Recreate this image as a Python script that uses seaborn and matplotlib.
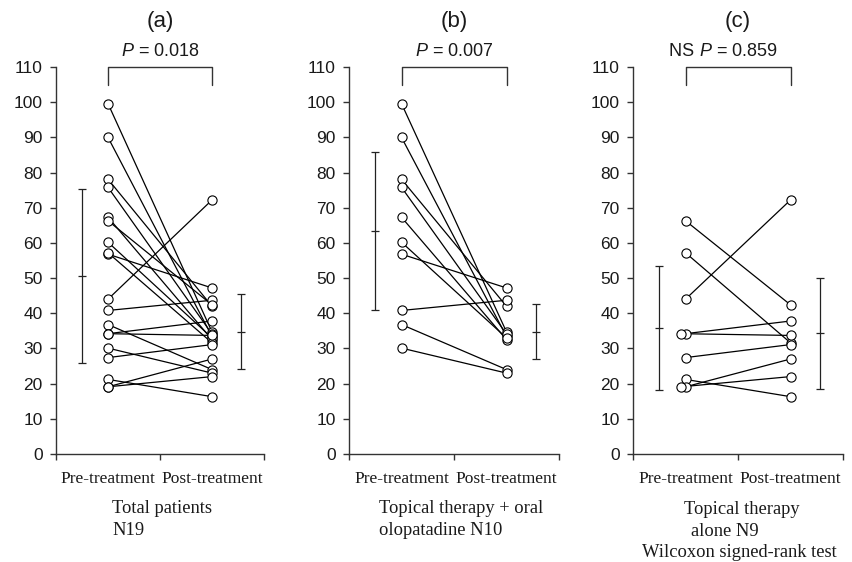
import matplotlib
matplotlib.use("Agg")
import numpy as np
import pandas as pd
import seaborn as sns
import matplotlib.pyplot as plt

# ---------------- data ----------------
conditions = ["Pre-treatment", "Post-treatment"]
y_ticks = [0, 10, 20, 30, 40, 50, 60, 70, 80, 90, 100, 110]

# group (b): topical therapy + oral olopatadine (N10), paired values
pre_b = [99.6, 90.0, 78.1, 75.8, 67.3, 60.2, 56.8, 40.8, 36.8, 30.1]
post_b = [34.7, 33.4, 42.0, 34.1, 32.5, 33.0, 47.2, 43.7, 24.0, 23.0]
# group (c): topical therapy alone (N9), paired values
pre_c = [66.3, 57.2, 44.0, 34.2, 34.2, 27.4, 21.2, 19.1, 19.1]
post_c = [42.4, 31.6, 72.2, 37.8, 33.7, 31.1, 16.3, 27.0, 22.0]
# group (a): all patients (N19)
pre_a = pre_b + pre_c
post_a = post_b + post_c

# mean and SD bars
mean_pre = [50.6, 63.4, 35.7]
sd_pre = [24.8, 22.5, 17.6]
mean_post = [34.8, 34.8, 34.3]
sd_post = [10.7, 7.85, 15.8]

titles = ["(a)", "(b)", "(c)"]
p_texts = ["$P$ = 0.018", "$P$ = 0.007", "$P$ = 0.859"]
p_prefix = ["", "", "NS "]
subtitles = [["Total patients", "N19"],
             ["Topical therapy + oral", "olopatadine N10"],
             ["Topical therapy", "alone N9", "Wilcoxon signed-rank test"]]

# ---------------- style ----------------
sns.set_style("ticks")
plt.rcParams["font.family"] = ["Liberation Sans", "DejaVu Sans"]
plt.rcParams["mathtext.fontset"] = "custom"
plt.rcParams["mathtext.rm"] = "Liberation Sans"
plt.rcParams["mathtext.it"] = "Liberation Sans:italic"
TXT = "#1a1a1a"
AX = "#333333"
SERIF = ["Liberation Serif", "DejaVu Serif"]

W, H = 852, 562
fig = plt.figure(figsize=(W / 100, H / 100), dpi=100)
fig.patch.set_facecolor("white")

axes_px = [(56, 264), (349, 559), (633, 843)]
TOP, BOT = 67, 454

# subtitle placement (left/center x in px, baselines in px, alignment)
sub_layout = [
    dict(ha="left", xs=[112, 112], ys=[512.7, 535]),
    dict(ha="left", xs=[379, 379], ys=[512.7, 535]),
    dict(ha="center", xs=[742, 725, 739], ys=[514, 535.5, 557]),
]

pre_all = [pre_a, pre_b, pre_c]
post_all = [post_a, post_b, post_c]
dodge_dupes = [False, False, True]

for k in range(3):
    l, r = axes_px[k]
    ax = fig.add_axes([l / W, 1 - BOT / H, (r - l) / W, (BOT - TOP) / H])
    pre, post = pre_all[k], post_all[k]

    rows = []
    seen = {}
    for i, (p, q) in enumerate(zip(pre, post)):
        n = seen.get(p, 0) if dodge_dupes[k] else 0
        seen[p] = seen.get(p, 0) + 1
        rows.append((i, 0.5 - 0.04 * n, p))
        rows.append((i, 1.5, q))
    df = pd.DataFrame(rows, columns=["id", "x", "v"])

    sns.lineplot(data=df, x="x", y="v", units="id", estimator=None,
                 color="black", lw=0.9, ax=ax, legend=False, sort=False)
    sns.scatterplot(data=df, x="x", y="v", ax=ax, s=44, marker="o",
                    facecolor="white", edgecolor="black", linewidth=0.8,
                    zorder=5, legend=False)

    # mean +/- SD bars
    for xe, m, s in [(0.25, mean_pre[k], sd_pre[k]), (1.78, mean_post[k], sd_post[k])]:
        ax.errorbar([xe], [m], yerr=[s], fmt="none", ecolor="#222222",
                    elinewidth=0.9, capsize=3, capthick=0.9)
        ax.plot([xe], [m], marker="_", ms=6, mew=0.9, color="#222222")

    # significance bracket
    ax.plot([0.5, 0.5, 1.5, 1.5], [105, 110, 110, 105], color=AX, lw=1.0,
            clip_on=False)

    ax.set_xlim(0, 2)
    ax.set_ylim(0, 110)
    ax.set_yticks(y_ticks)
    ax.set_yticklabels([str(t) for t in y_ticks], fontsize=12.5, color=TXT)
    ax.set_xticks([0, 1, 2])
    ax.set_xticklabels([])
    ax.set_xticks([0.5, 1.5], minor=True)
    ax.set_xticklabels(conditions, minor=True, fontsize=12.5, color=TXT,
                       family=SERIF)
    ax.tick_params(axis="x", which="minor", length=0, pad=12.5)
    ax.tick_params(axis="both", which="major", length=4.5, width=1.0,
                   color=AX, direction="out")
    ax.tick_params(axis="y", pad=5)
    ax.set_xlabel("")
    ax.set_ylabel("")
    for side in ["top", "right"]:
        ax.spines[side].set_visible(False)
    for side in ["left", "bottom"]:
        ax.spines[side].set_color(AX)
        ax.spines[side].set_linewidth(1.0)

    ax.text(0.5, (BOT - 22) / (BOT - TOP), titles[k], transform=ax.transAxes,
            ha="center", va="center", fontsize=16, color=TXT)
    pt = ax.text(0.5, (BOT - 52) / (BOT - TOP), p_texts[k], transform=ax.transAxes,
                 ha="center", va="center", fontsize=13, color=TXT)
    if p_prefix[k]:
        ax.annotate(p_prefix[k], xy=(0, 0.5), xycoords=pt, ha="right",
                    va="center", fontsize=13, color=TXT)

    lay = sub_layout[k]
    for line, xs, ys in zip(subtitles[k], lay["xs"], lay["ys"]):
        fig.text(xs / W, 1 - ys / H, line, ha=lay["ha"], va="baseline",
                 fontsize=13.3, color=TXT, family=SERIF)

fig.savefig("out.png", dpi=100, facecolor="white")
